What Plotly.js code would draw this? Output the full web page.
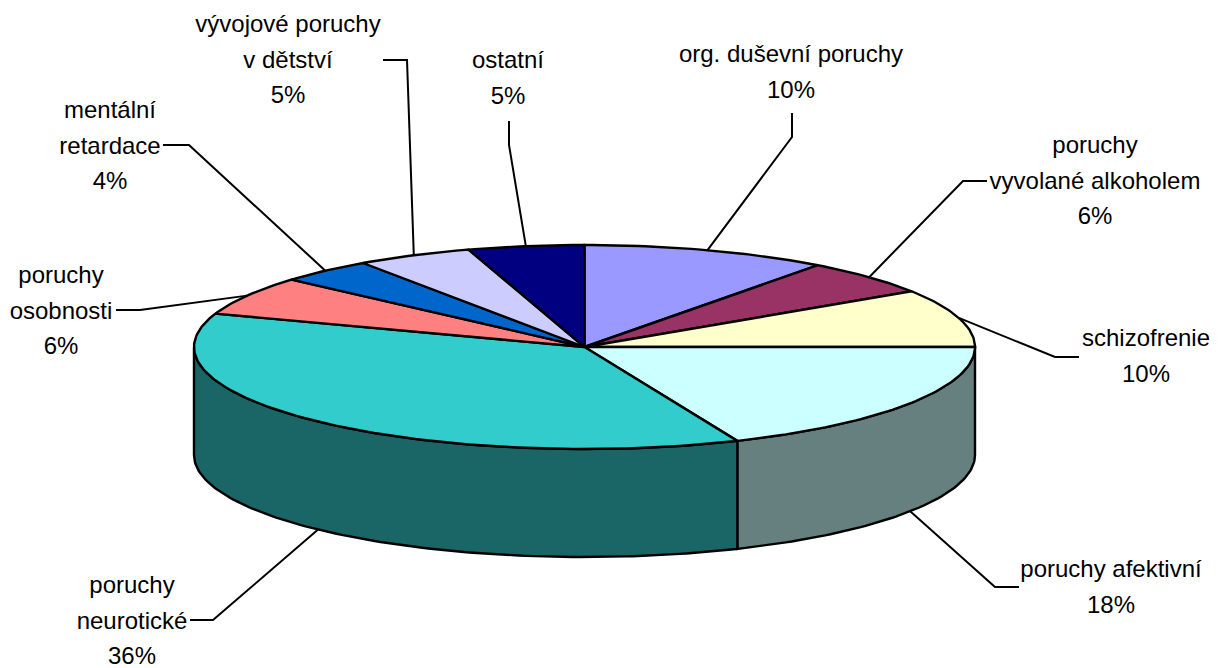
<!DOCTYPE html>
<html>
<head>
<meta charset="utf-8">
<script src="https://cdn.plot.ly/plotly-3.0.1.min.js"></script>
<style>html,body{margin:0;padding:0;background:#fff}#chart{width:1220px;height:668px}</style>
</head>
<body>
<div id="chart"></div>
<script>
// Data, clockwise from 12 o'clock
const categories = ['org. duševní poruchy','poruchy vyvolané alkoholem','schizofrenie','poruchy afektivní','poruchy neurotické','poruchy osobnosti','mentální retardace','vývojové poruchy v dětství','ostatní'];
const values = [10.2, 5.6, 9.2, 18.6, 36.7, 6.2, 3.9, 4.8, 4.8];
const percentLabels = ['10%','6%','10%','18%','36%','6%','4%','5%','5%'];
const labelLines = [
  ['org. duševní poruchy'],
  ['poruchy','vyvolané alkoholem'],
  ['schizofrenie'],
  ['poruchy afektivní'],
  ['poruchy','neurotické'],
  ['poruchy','osobnosti'],
  ['mentální','retardace'],
  ['vývojové poruchy','v dětství'],
  ['ostatní']
];
const topColors = ['#9999FF','#993366','#FFFFCC','#CCFFFF','#33CCCC','#FF8080','#0066CC','#CCCCFF','#000080'];
const wallColors = ['#4D4D80','#4D1A33','#808066','#668080','#1A6666','#804040','#003366','#666680','#000040'];

// Drawing geometry
const geom = {cx:584.5, cy:347, rx:390.5, ry:102, depth:108};
const labelCenterX = [791,1095,1146,1111,132,61,110,288,508];
const labelTopY = [56,147,340,571,587,277,112,26,62];
const lineStep = 35.6;
const leaderStart = [[792,113],[987,181],[1079,357],[1019,587],[190,620],[116,310],[163,145],[383,60],[509,121]];
const leaderElbow = [[792,137],[963,181],[1055,357],[995,587],[213,620],[140,310],[189,145],[407,60],[509,145]];

const total = values.reduce((a,b)=>a+b,0);
const pt = (deg,drop=0)=>{const r=deg*Math.PI/180;return [geom.cx+geom.rx*Math.sin(r), geom.cy-geom.ry*Math.cos(r)+drop];};
const arc = (a,b,drop=0)=>{const n=Math.max(2,Math.ceil(Math.abs(b-a)));const o=[];for(let i=0;i<=n;i++)o.push(pt(a+(b-a)*i/n,drop));return o;};
const line = '#000000';
const wallTraces=[], topTraces=[], leaderTraces=[];
let cum=0;
const textX=[], textY=[], textS=[];
values.forEach((v,i)=>{
  const a0=cum/total*360, a1=(cum+v)/total*360; cum+=v;
  // side wall: only the front half (90..270 degrees) is visible
  const w0=Math.max(a0,90), w1=Math.min(a1,270);
  if(w1>w0){
    const pts=arc(w0,w1,0).concat(arc(w1,w0,geom.depth));
    pts.push(pts[0]);
    wallTraces.push({type:'scatter',mode:'lines',x:pts.map(p=>p[0]),y:pts.map(p=>p[1]),fill:'toself',fillcolor:wallColors[i],line:{color:line,width:2.4},hoverinfo:'skip'});
  }
  // top face
  const tp=[[geom.cx,geom.cy]].concat(arc(a0,a1)); tp.push([geom.cx,geom.cy]);
  topTraces.push({type:'scatter',mode:'lines',x:tp.map(p=>p[0]),y:tp.map(p=>p[1]),fill:'toself',fillcolor:topColors[i],line:{color:line,width:2.4},hoverinfo:'skip'});
  // leader line ends at slice mid-angle on the outer edge
  const mid=(a0+a1)/2, front=mid>90&&mid<270;
  const e=pt(mid,front?geom.depth:0);
  leaderTraces.push({type:'scatter',mode:'lines',x:[leaderStart[i][0],leaderElbow[i][0],e[0]],y:[leaderStart[i][1],leaderElbow[i][1],e[1]],line:{color:line,width:2},hoverinfo:'skip'});
  // label lines
  labelLines[i].concat([percentLabels[i]]).forEach((s,k)=>{textX.push(labelCenterX[i]);textY.push(labelTopY[i]+k*lineStep);textS.push(s);});
});
const textTrace={type:'scatter',mode:'text',x:textX,y:textY,text:textS,textposition:'middle center',textfont:{family:'"Liberation Sans",Arial,sans-serif',size:24,color:'#000000'},hoverinfo:'skip',cliponaxis:false};

Plotly.newPlot('chart',[...leaderTraces,...wallTraces,...topTraces,textTrace],{
  width:1220,height:668,margin:{l:0,r:0,t:0,b:0},showlegend:false,
  paper_bgcolor:'#ffffff',plot_bgcolor:'#ffffff',
  xaxis:{range:[0,1220],visible:false,fixedrange:true},
  yaxis:{range:[668,0],visible:false,fixedrange:true}
},{staticPlot:true,displayModeBar:false});
</script>
</body>
</html>
